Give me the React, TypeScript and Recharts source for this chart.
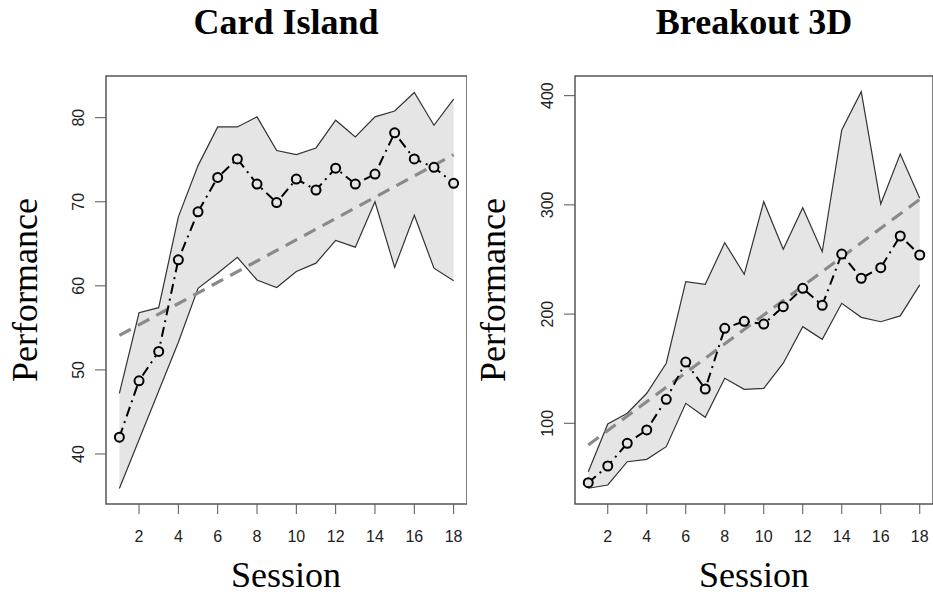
import {
  ComposedChart,
  Area,
  Line,
  XAxis,
  YAxis,
  ReferenceArea,
} from "recharts";

const sessions = [1, 2, 3, 4, 5, 6, 7, 8, 9, 10, 11, 12, 13, 14, 15, 16, 17, 18];
const sessionTicks = [2, 4, 6, 8, 10, 12, 14, 16, 18];

// Card Island
const cardMean = [42.0, 48.7, 52.2, 63.1, 68.8, 72.9, 75.1, 72.1, 69.9, 72.7, 71.4, 74.0, 72.1, 73.3, 78.2, 75.1, 74.1, 72.2];
const cardLow = [35.9, 41.7, 47.5, 53.3, 59.7, 61.5, 63.4, 60.7, 59.8, 61.7, 62.7, 65.4, 64.6, 70.0, 62.2, 68.4, 62.1, 60.6];
const cardHigh = [47.2, 56.8, 57.4, 68.2, 74.3, 78.9, 78.9, 80.1, 76.1, 75.6, 76.4, 79.7, 77.7, 80.1, 80.8, 83.0, 79.1, 82.2];
const cardTrend = [54.1, 75.6];
const cardTicks = [40, 50, 60, 70, 80];

// Breakout 3D
const breakMean = [45.6, 60.9, 81.7, 93.9, 122.0, 156.1, 131.4, 187.0, 193.4, 190.9, 206.8, 223.6, 208.0, 255.0, 232.8, 242.5, 271.5, 254.1];
const breakLow = [40.5, 43.5, 64.8, 67.0, 78.6, 118.3, 105.5, 141.2, 131.1, 132.0, 155.0, 188.5, 176.9, 209.9, 197.0, 193.0, 198.3, 226.7];
const breakHigh = [55.7, 99.4, 109.2, 127.5, 155.0, 229.7, 227.3, 265.4, 236.4, 302.9, 259.3, 297.4, 257.1, 368.6, 403.7, 300.8, 346.6, 306.0];
const breakTrend = [80.1, 305.1];
const breakTicks = [100, 200, 300, 400];

const trendSessions = [1, 18];
const xDomain: [number, number] = [0.32, 18.68];

const serif = "'Liberation Serif', 'Times New Roman', serif";
const sans = "'Liberation Sans', Arial, sans-serif";

const RotatedTick = (props: any) => {
  const { x, y, payload } = props;
  return (
    <text
      x={x}
      y={y}
      transform={`rotate(-90, ${x}, ${y})`}
      textAnchor="middle"
      fontFamily={sans}
      fontSize={16}
      fill="#222"
    >
      {payload.value}
    </text>
  );
};

// open circle, drawn solid even though the line is dash-dot
const OpenDot = (props: any) => {
  const { cx, cy, index } = props;
  if (cx == null || cy == null) return null;
  return (
    <circle key={`dot-${index}`} cx={cx} cy={cy} r={4.5} fill="#e5e5e5" stroke="#000" strokeWidth={2} />
  );
};

type PanelProps = {
  left: number;
  width: number;
  axisWidth: number;
  mean: number[];
  low: number[];
  high: number[];
  trend: number[];
  yDomain: [number, number];
  yTicks: number[];
};

const Panel = ({ left, width, axisWidth, mean, low, high, trend, yDomain, yTicks }: PanelProps) => {
  const data = sessions.map((s, i) => ({
    session: s,
    mean: mean[i],
    band: [low[i], high[i]],
  }));
  const trendData = trendSessions.map((s, i) => ({ session: s, trend: trend[i] }));
  return (
    <div style={{ position: "absolute", left, top: 0 }}>
      <ComposedChart
        width={width}
        height={594}
        data={data}
        margin={{ top: 76, right: 0, bottom: 50, left: 0 }}
      >
        <XAxis
          dataKey="session"
          type="number"
          domain={xDomain}
          ticks={sessionTicks}
          allowDataOverflow
          height={40}
          axisLine={false}
          tickSize={10}
          tickMargin={17}
          tickLine={{ stroke: "#555" }}
          tick={{ fontFamily: sans, fontSize: 16, fill: "#222" }}
        />
        <YAxis
          type="number"
          domain={yDomain}
          ticks={yTicks}
          allowDataOverflow
          width={axisWidth}
          axisLine={false}
          tickSize={11}
          tickMargin={11}
          tickLine={{ stroke: "#555" }}
          tick={<RotatedTick />}
        />
        <Area
          type="linear"
          dataKey="band"
          fill="#e5e5e5"
          fillOpacity={1}
          stroke="#333"
          strokeWidth={1.2}
          isAnimationActive={false}
        />
        <Line
          data={trendData}
          type="linear"
          dataKey="trend"
          stroke="#8a8a8a"
          strokeWidth={3.2}
          strokeDasharray="13 8"
          dot={false}
          isAnimationActive={false}
        />
        <Line
          type="linear"
          dataKey="mean"
          stroke="#000"
          strokeWidth={2}
          strokeDasharray="10 5 2 5"
          dot={<OpenDot />}
          isAnimationActive={false}
        />
        <ReferenceArea
          x1={xDomain[0]}
          x2={xDomain[1]}
          y1={yDomain[0]}
          y2={yDomain[1]}
          fill="none"
          stroke="#555"
          strokeWidth={1.5}
          ifOverflow="extendDomain"
        />
      </ComposedChart>
    </div>
  );
};

export default function App() {
  return (
    <div style={{ position: "absolute", left: 0, top: 0, width: 933, height: 594, background: "#fff", overflow: "hidden" }}>
      <Panel
        left={0}
        width={467}
        axisWidth={106}
        mean={cardMean}
        low={cardLow}
        high={cardHigh}
        trend={cardTrend}
        yDomain={[34.05, 84.96]}
        yTicks={cardTicks}
      />
      <Panel
        left={470}
        width={463}
        axisWidth={105}
        mean={breakMean}
        low={breakLow}
        high={breakHigh}
        trend={breakTrend}
        yDomain={[26.1, 418]}
        yTicks={breakTicks}
      />
      <svg width={933} height={594} style={{ position: "absolute", left: 0, top: 0, pointerEvents: "none" }}>
        <g fontFamily={serif} fill="#000">
          <text x={286} y={34} textAnchor="middle" fontSize={36} fontWeight="bold">Card Island</text>
          <text x={754} y={34} textAnchor="middle" fontSize={36} fontWeight="bold">Breakout 3D</text>
          <text x={286} y={587} textAnchor="middle" fontSize={36}>Session</text>
          <text x={754} y={587} textAnchor="middle" fontSize={36}>Session</text>
          <text x={37} y={290} textAnchor="middle" fontSize={36} transform="rotate(-90, 37, 290)">Performance</text>
          <text x={505} y={290} textAnchor="middle" fontSize={36} transform="rotate(-90, 505, 290)">Performance</text>
        </g>
      </svg>
    </div>
  );
}
